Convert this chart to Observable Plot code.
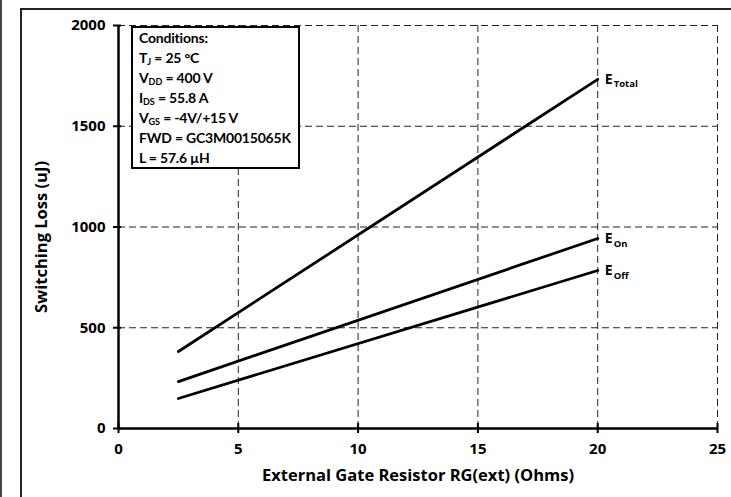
<!DOCTYPE html>
<html>
<head>
<meta charset="utf-8">
<script src="https://cdn.jsdelivr.net/npm/d3@7"></script>
<script src="https://cdn.jsdelivr.net/npm/@observablehq/plot@0.6"></script>
<style>
  html, body { margin: 0; padding: 0; background: white; }
  #wrap { position: relative; width: 731px; height: 497px; overflow: hidden; font-family: "Open Sans", Lato, sans-serif; font-weight: bold; }
  #wrap svg { position: absolute; left: 0; top: 0; }
  .edge { position: absolute; background: #222; }
  #cond { position: absolute; left: 131px; top: 26px; width: 159px; height: 139px; border: 2.5px solid black; background: white; padding: 0 0 0 6px; font-family: Lato, sans-serif; font-size: 14px; letter-spacing: -0.2px; line-height: 20px; color: black; box-sizing: content-box; }
  #cond div { white-space: nowrap; }
  #cond sub { font-size: 9px; vertical-align: -2px; line-height: 0; letter-spacing: 0; }
</style>
</head>
<body>
<div id="wrap"></div>
<script>
const rg = [2.5, 20];
const eTotal = [382, 1733];
const eOn = [233, 943];
const eOff = [149, 784];
const seriesNames = ["Total", "On", "Off"];
const seriesValues = [eTotal, eOn, eOff];
const xTicks = [0, 5, 10, 15, 20, 25];
const yTicks = [0, 500, 1000, 1500, 2000];
const xLabel = "External Gate Resistor RG(ext) (Ohms)";
const yLabel = "Switching Loss (uJ)";
const conditions = [
  "Conditions:",
  "T<sub>J</sub> = 25 °C",
  "V<sub>DD</sub> = 400 V",
  "I<sub>DS</sub> = 55.8 A",
  "V<sub>GS</sub> = -4V/+15 V",
  "FWD = GC3M0015065K",
  "L = 57.6 µH"
];

const rows = [];
seriesNames.forEach((s, k) => rg.forEach((r, i) => rows.push({series: s, rg: r, e: seriesValues[k][i]})));
const ends = seriesNames.map((s, k) => ({series: s, rg: rg[rg.length - 1], e: seriesValues[k][seriesValues[k].length - 1]}));

const grid = {stroke: "#222", strokeOpacity: 1, strokeWidth: 1, strokeDasharray: "7,4"};

const plot = Plot.plot({
  width: 731,
  height: 497,
  marginLeft: 118,
  marginRight: 14,
  marginTop: 25,
  marginBottom: 69,
  style: {fontFamily: "'Open Sans', Lato, sans-serif", fontWeight: "bold", fontSize: "15px", color: "black", background: "transparent", overflow: "visible"},
  x: {domain: [0, 25], ticks: xTicks},
  y: {domain: [0, 2000], ticks: yTicks},
  marks: [
    Plot.gridX(xTicks.slice(1), {x: d => d, ...grid}),
    Plot.gridY(yTicks.slice(1), {y: d => d, ...grid}),
    Plot.ruleX(xTicks, {x: d => d, y1: 0, y2: 0, insetTop: -5, insetBottom: -5, stroke: "black", strokeWidth: 2}),
    Plot.ruleY(yTicks, {y: d => d, x1: 0, x2: 0, insetLeft: -5, insetRight: -3, stroke: "black", strokeWidth: 2}),
    Plot.ruleX([0], {stroke: "black", strokeWidth: 2.5}),
    Plot.ruleY([0], {stroke: "black", strokeWidth: 2.5}),
    Plot.axisX(xTicks, {tickSize: 0, tickPadding: 15, label: null, fontSize: 15, tickFormat: d3.format("d")}),
    Plot.axisY(yTicks, {tickSize: 0, tickPadding: 13, label: null, fontSize: 15, tickFormat: d3.format("d")}),
    Plot.line(rows, {x: "rg", y: "e", z: "series", stroke: "black", strokeWidth: 2.8}),
    Plot.text(ends, {x: "rg", y: "e", text: () => "E", textAnchor: "start", dx: 7, fontSize: 14, fill: "black"}),
    Plot.text(ends, {x: "rg", y: "e", text: "series", textAnchor: "start", dx: 16, dy: 5, fontSize: 9.5, fill: "black"}),
    Plot.text([xLabel], {frameAnchor: "bottom", textAnchor: "middle", lineAnchor: "middle", dy: 47, fontSize: 16.5, fill: "black"}),
    Plot.text([yLabel], {frameAnchor: "left", textAnchor: "middle", lineAnchor: "middle", dx: -77, dy: 10, rotate: -90, fontSize: 16.5, fill: "black"})
  ]
});

const wrap = document.getElementById("wrap");
wrap.appendChild(plot);

const box = document.createElement("div");
box.id = "cond";
box.innerHTML = conditions.map(c => `<div>${c}</div>`).join("");
wrap.appendChild(box);

function edge(l, t, w, h, c) {
  const d = document.createElement("div");
  d.className = "edge";
  Object.assign(d.style, {left: l + "px", top: t + "px", width: w + "px", height: h + "px"});
  if (c) d.style.background = c;
  wrap.appendChild(d);
}
edge(0, 0, 2, 497, "#444");
edge(20, 8, 2, 489);
edge(20, 8, 711, 2);
</script>
</body>
</html>
